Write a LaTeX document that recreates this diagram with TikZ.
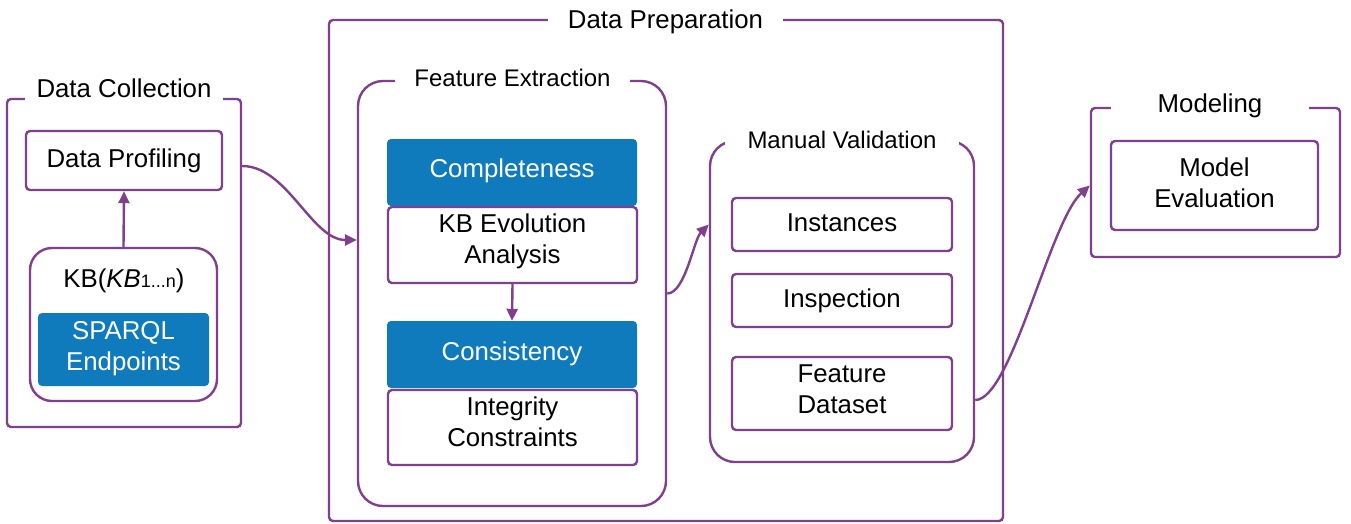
\documentclass[tikz,border=0pt]{standalone}
\usepackage{fontspec}
\setmainfont{Liberation Sans}
\usetikzlibrary{arrows.meta,calc}
\definecolor{pur}{RGB}{128,64,141}
\definecolor{blu}{RGB}{15,123,189}
\begin{document}
\begin{tikzpicture}[x=1pt,y=-1pt,
  every node/.style={font=\fontsize{25.8}{31}\selectfont, inner sep=0pt, align=center},
  frame/.style={draw=pur, line width=2.4pt, rounded corners=4pt},
  roundframe/.style={draw=pur, line width=2.4pt, rounded corners=25pt},
  wbox/.style={draw=pur, line width=2.4pt, rounded corners=4pt, fill=white},
  bbox/.style={fill=blu, rounded corners=4pt, text=white},
  ttl/.style={fill=white, inner ysep=5pt, anchor=base},
  subttl/.style={fill=white, inner ysep=5pt, anchor=base, font=\fontsize{24}{29}\selectfont},
  conn/.style={draw=pur, line width=2.4pt, -{Triangle[length=12pt,width=11pt]}}]
\fill[white] (0,0) rectangle (1351,523);
\useasboundingbox (0,0) rectangle (1351,523);

% Data Collection
\node[frame, minimum width=234pt, minimum height=328pt] (dc) at (124,263) {};
\node[ttl, minimum width=198pt] (dct) at (124,97) {Data Collection};
\node[wbox, minimum width=196pt, minimum height=59pt] (dp) at (124,160.5) {Data Profiling};
\node[draw=pur, line width=2.4pt, rounded corners=22pt, minimum width=187pt, minimum height=153pt] (kb) at (123.5,324.5) {};
\node[anchor=base] (kbt) at (124,287) {KB(\textit{KB}{\fontsize{18}{20}\selectfont 1...n})};
\node[bbox, minimum width=171pt, minimum height=73pt, text depth=8pt] (sp) at (123.5,349.5) {SPARQL\\Endpoints};

% Data Preparation
\node[frame, minimum width=674pt, minimum height=501pt] (dpr) at (666,270.5) {};
\node[ttl, minimum width=235pt] (dprt) at (665.5,28) {Data Preparation};

% Feature Extraction
\node[roundframe, minimum width=308pt, minimum height=425pt] (fe) at (512,293.5) {};
\node[subttl, minimum width=235pt] (fet) at (512.5,86) {Feature Extraction};
\node[bbox, minimum width=250pt, minimum height=67pt, text depth=9.4pt] (comp) at (512,172.5) {Completeness};
\node[wbox, minimum width=249pt, minimum height=76pt, text depth=13pt] (kbe) at (512.5,245) {KB Evolution\\Analysis};
\node[bbox, minimum width=250pt, minimum height=67pt, text depth=7.4pt] (cons) at (512,354.5) {Consistency};
\node[wbox, minimum width=249pt, minimum height=75pt, text depth=11pt] (integ) at (512.5,427.5) {Integrity\\Constraints};

% Manual Validation
\node[roundframe, minimum width=264pt, minimum height=321pt] (mv) at (842,301.5) {};
\node[subttl, minimum width=234pt] (mvt) at (842,148) {Manual Validation};
\node[wbox, minimum width=220pt, minimum height=53pt, text depth=4pt] (inst) at (842,224.5) {Instances};
\node[wbox, minimum width=220pt, minimum height=53pt] (insp) at (842,300.5) {Inspection};
\node[wbox, minimum width=220pt, minimum height=73pt, text depth=8pt] (fd) at (842,393.5) {Feature\\Dataset};

% Modeling
\node[frame, minimum width=249pt, minimum height=149pt] (mod) at (1215.5,182.5) {};
\node[ttl, minimum width=198pt] (modt) at (1210,112) {Modeling};
\node[wbox, minimum width=207pt, minimum height=89pt, text depth=6pt] (me) at (1214.5,185.5) {Model\\Evaluation};

% connectors
\draw[conn] (kb.north) -- (dp.south);
\draw[conn] (kbe.south) -- (cons.north);
\draw[conn] ($(dc.east |- dp.east)+(0,5.5)$) .. controls +(45,0) and +(-45,0) .. ($(fe.west |- kbe.west)+(0,-5)$);
\draw[conn] (fe.east) .. controls +(18,0) and +(-15,15) .. (mv.west |- inst.west);
\draw[conn] ($(mv.east |- fd.east)+(0,6.5)$) .. controls +(36,0) and +(-40,36) .. (mod.west |- me.west);
\end{tikzpicture}
\end{document}
